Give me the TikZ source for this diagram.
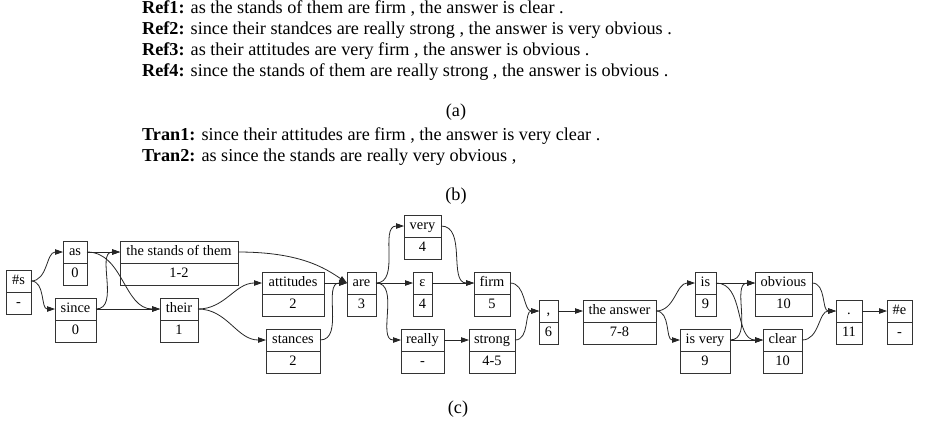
\documentclass[tikz,border=0pt]{standalone}
\usepackage{fontspec}
\setmainfont{Liberation Serif}
\usetikzlibrary{arrows.meta}
\tikzset{
  fld/.style={draw=black!80, line width=0.8pt, minimum height=22pt, inner sep=1pt, outer sep=0pt,
    text height=10pt, text depth=3pt, font=\fontsize{14.4}{16}\selectfont},
  edge/.style={draw=black!85, line width=0.8pt, -{Triangle[length=8pt,width=5.5pt]}},
  txt/.style={anchor=base west, inner sep=0pt, font=\fontsize{18.2}{21}\selectfont},
  captxt/.style={anchor=base, inner sep=0pt, font=\fontsize{18.2}{21}\selectfont}
}
\newcommand\recnode[6]{%
  \node[fld, minimum width={(#3-#2)*1pt}, anchor=north west] (#1) at (#2,#4) {#5};
  \node[fld, minimum width={(#3-#2)*1pt}, anchor=north] (#1-n) at (#1.south) {#6};
}
\begin{document}
\begin{tikzpicture}[x=1pt,y=-1pt]
\useasboundingbox (0,0) rectangle (925,421);
% texts
\node[txt] (r1) at (142,13) {\textbf{Ref1:} as the stands of them are firm , the answer is clear .};
\node[txt] (r2) at (142,34) {\textbf{Ref2:} since their standces are really strong , the answer is very obvious .};
\node[txt] (r3) at (142,55) {\textbf{Ref3:} as their attitudes are very firm , the answer is obvious .};
\node[txt] (r4) at (142,76) {\textbf{Ref4:} since the stands of them are really strong , the answer is obvious .};
\node[captxt] (ca) at (456,116) {(a)};
\node[txt] (t1) at (142,140) {\textbf{Tran1:} since their attitudes are firm , the answer is very clear .};
\node[txt] (t2) at (142,161) {\textbf{Tran2:} as since the stands are really very obvious ,};
\node[captxt] (cb) at (456,200) {(b)};
\node[captxt] (cc) at (458,413) {(c)};
% nodes
\recnode{s}{6}{31}{270}{\#s}{-}
\recnode{as}{63}{87}{241}{as}{0}
\recnode{since}{55}{96}{298}{since}{0}
\recnode{stands}{120}{238}{241}{the stands of them}{1-2}
\recnode{their}{160}{198}{298}{their}{1}
\recnode{att}{262}{324}{272}{attitudes}{2}
\recnode{stan}{266}{320}{329}{stances}{2}
\recnode{are}{347}{376}{272}{are}{3}
\recnode{very}{404}{441}{215}{very}{4}
\recnode{eps}{413}{432}{272}{ε}{4}
\recnode{firm}{474}{510}{272}{firm}{5}
\recnode{really}{401}{444}{329}{really}{-}
\recnode{strong}{469}{515}{329}{strong}{4-5}
\recnode{comma}{539}{558}{300}{,}{6}
\recnode{ans}{583}{656}{300}{the answer}{7-8}
\recnode{is}{695}{716}{272}{is}{9}
\recnode{obv}{755}{812}{272}{obvious}{10}
\recnode{isv}{680}{730}{329}{is very}{9}
\recnode{clear}{763}{802}{329}{clear}{10}
\recnode{per}{836}{862}{300}{.}{11}
\recnode{e}{887}{912}{300}{\#e}{-}
% edges
\path[edge] (s.east) to[out=0,in=180] (as.west);
\path[edge] (s.east) to[out=0,in=180] (since.west);
\path[edge] (as.east) -- (stands.west);
\path[edge] (as.east) to[out=0,in=180] (their.west);
\path[edge] (since.east) to[out=0,in=180] (stands.west);
\path[edge] (since.east) -- (their.west);
\path[edge] (stands.east) .. controls (300,252) and (325,268) .. (are.west);
\path[edge] (their.east) to[out=0,in=180] (att.west);
\path[edge] (their.east) to[out=0,in=180] (stan.west);
\path[edge] (att.east) -- (are.west);
\path[edge] (stan.east) to[out=0,in=180] (are.west);
\path[edge] (are.east) to[out=0,in=180] (very.west);
\path[edge] (are.east) -- (eps.west);
\path[edge] (are.east) to[out=0,in=180] (really.west);
\path[edge] (very.east) to[out=0,in=180] (firm.west);
\path[edge] (eps.east) -- (firm.west);
\path[edge] (really.east) -- (strong.west);
\path[edge] (firm.east) to[out=0,in=180] (comma.west);
\path[edge] (strong.east) to[out=0,in=180] (comma.west);
\path[edge] (comma.east) -- (ans.west);
\path[edge] (ans.east) to[out=0,in=180] (is.west);
\path[edge] (ans.east) to[out=0,in=180] (isv.west);
\path[edge] (is.east) -- (obv.west);
\path[edge] (is.east) to[out=0,in=180] (clear.west);
\path[edge] (isv.east) to[out=0,in=180] (obv.west);
\path[edge] (isv.east) -- (clear.west);
\path[edge] (obv.east) to[out=0,in=180] (per.west);
\path[edge] (clear.east) to[out=0,in=180] (per.west);
\path[edge] (per.east) -- (e.west);
\end{tikzpicture}
\end{document}
